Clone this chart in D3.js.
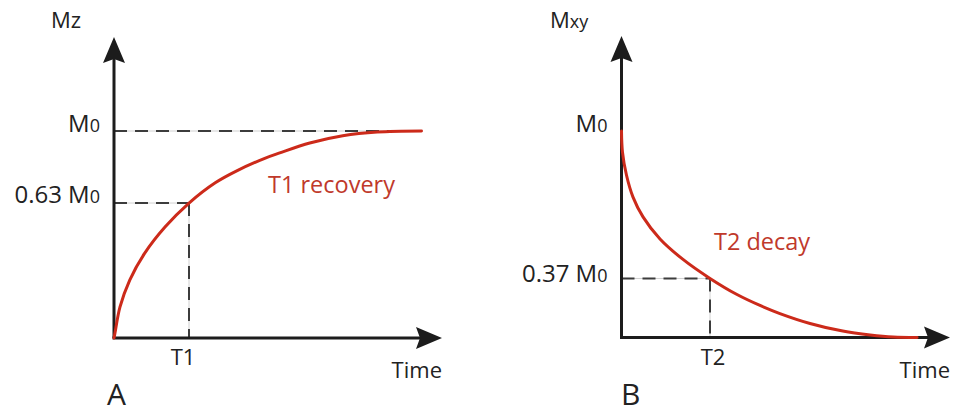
<!DOCTYPE html>
<html>
<head>
<meta charset="utf-8">
<script src="https://cdn.jsdelivr.net/npm/d3@7"></script>
<style>
  body { margin: 0; background: #fff; }
  svg text { font-family: "Open Sans", sans-serif; fill: #222; }
</style>
</head>
<body>
<div id="graph"></div>
<script>
// T1 recovery (time in T1 units, signal in M0 units)
const t1Time = [0, 0.013, 0.08, 0.21, 0.41, 0.68, 1.0, 1.35, 1.65, 2.01, 2.21, 2.61, 3.05, 3.51, 4.1];
const t1Signal = [0, 0.024, 0.15, 0.28, 0.41, 0.536, 0.652, 0.75, 0.81, 0.868, 0.894, 0.942, 0.977, 0.995, 1.0];

// T2 decay (time in T2 units)
const t2Time = [0, 0.011, 0.056, 0.13, 0.243, 0.435, 0.695, 1.0, 1.305, 1.565, 1.79, 2.13, 2.5, 2.81, 3.07, 3.34];
const t2Signal = [1, 0.898, 0.787, 0.68, 0.584, 0.477, 0.378, 0.286, 0.208, 0.155, 0.116, 0.068, 0.031, 0.012, 0.002, 0];

// tick labels: [main, subscript]
const t1YTicks = [1, 0.652];
const t1YLabels = [["M", "0"], ["0.63 M", "0"]];
const t1XTicks = [1];
const t1XLabels = ["T1"];

const t2YTicks = [1, 0.286];
const t2YLabels = [["M", "0"], ["0.37 M", "0"]];
const t2XTicks = [1];
const t2XLabels = ["T2"];

const width = 953, height = 415;
const axisColor = "#1c1c1c", curveColor = "#cc2a1a";

const svg = d3.select("#graph").append("svg")
    .attr("width", width)
    .attr("height", height);

const arrowPath = (x, y, dir) => {
    // dir: "up" or "right"; length 26, half-width 11, notch 4
    const L = 26, W = 11, N = 4;
    if (dir === "up") {
        return `M${x},${y} L${x + W},${y + L} L${x},${y + L - N} L${x - W},${y + L} Z`;
    }
    return `M${x},${y} L${x - L},${y - W} L${x - L + N},${y} L${x - L},${y + W} Z`;
};

const dashed = (g, x1, y1, x2, y2) => {
    g.append("line")
        .attr("x1", x1).attr("y1", y1).attr("x2", x2).attr("y2", y2)
        .style("stroke", "#d0d0d0").style("stroke-width", 1);
    g.append("line")
        .attr("x1", x1).attr("y1", y1).attr("x2", x2).attr("y2", y2)
        .style("stroke", "#3c3c3c").style("stroke-width", 2)
        .style("stroke-dasharray", "13,8");
};

const subLabel = (g, x, y, parts, size, subSize, anchor) => {
    const t = g.append("text")
        .attr("x", x).attr("y", y)
        .attr("text-anchor", anchor)
        .attr("font-size", size);
    t.append("tspan").text(parts[0]);
    t.append("tspan").attr("font-size", subSize).text(parts[1]);
    return t;
};

const createPanel = (p) => {
    const g = svg.append("g");
    const xScale = d3.scaleLinear().domain([0, 1]).range([p.x0, p.x1]);
    const yScale = d3.scaleLinear().domain([0, 1]).range([p.y0, p.y1]);

    // guide lines
    p.yTicks.forEach((v, i) => {
        if (p.guideRight[i] != null) {
            dashed(g, p.x0, yScale(v), xScale(p.guideRight[i]), yScale(v));
        }
    });
    p.xTicks.forEach((v) => {
        dashed(g, xScale(v), yScale(p.guideTop), xScale(v), p.y0);
    });

    // axes
    g.append("line")
        .attr("x1", p.x0).attr("y1", p.y0)
        .attr("x2", p.x0).attr("y2", p.yTip + 20)
        .style("stroke", axisColor).style("stroke-width", 3);
    g.append("line")
        .attr("x1", p.x0 - 1.5).attr("y1", p.y0)
        .attr("x2", p.xTip - 20).attr("y2", p.y0)
        .style("stroke", axisColor).style("stroke-width", 3);
    g.append("path").attr("d", arrowPath(p.x0, p.yTip, "up")).style("fill", axisColor);
    g.append("path").attr("d", arrowPath(p.xTip, p.y0, "right")).style("fill", axisColor);

    // curve
    const pts = p.time.map((t, i) => ({ t: t, m: p.signal[i] }));
    g.append("path")
        .datum(pts)
        .attr("d", d3.line().x(d => xScale(d.t)).y(d => yScale(d.m)).curve(d3.curveCatmullRom.alpha(0.5)))
        .style("fill", "none")
        .style("stroke", curveColor)
        .style("stroke-width", 3)
        .style("stroke-linecap", "round");

    // tick labels
    p.yTicks.forEach((v, i) => {
        subLabel(g, p.x0 - 14, yScale(v) + p.yLabelDy[i], p.yLabels[i], 24, 18, "end");
    });
    p.xTicks.forEach((v, i) => {
        g.append("text")
            .attr("x", xScale(v) + p.xLabelDx).attr("y", p.y0 + 27)
            .attr("text-anchor", "middle")
            .attr("font-size", 22)
            .text(p.xLabels[i]);
    });

    // axis titles
    subLabel(g, p.titleX, 28, p.title, 22, p.title[1].length > 1 ? 18 : 22, "start");
    g.append("text")
        .attr("x", p.xTip).attr("y", p.y0 + 40)
        .attr("text-anchor", "end")
        .attr("font-size", 22)
        .text("Time");
    g.append("text")
        .attr("x", p.letterX).attr("y", 405)
        .attr("font-size", 30)
        .text(p.letter);

    // curve name
    g.append("text")
        .attr("x", p.nameX).attr("y", p.nameY)
        .attr("font-size", 23.5)
        .style("fill", "#c0392b")
        .text(p.name);
};

createPanel({
    x0: 114, x1: 189, y0: 338, y1: 131, xTip: 442, yTip: 37,
    time: t1Time, signal: t1Signal,
    yTicks: t1YTicks, yLabels: t1YLabels, yLabelDy: [1, 0],
    guideRight: [4.1, 1],
    xTicks: t1XTicks, xLabels: t1XLabels, xLabelDx: -6,
    guideTop: 0.652,
    title: ["M", "z"], titleX: 51,
    letter: "A", letterX: 107,
    name: "T1 recovery", nameX: 268, nameY: 193
});

createPanel({
    x0: 621.5, x1: 710, y0: 337.5, y1: 131, xTip: 950, yTip: 36,
    time: t2Time, signal: t2Signal,
    yTicks: t2YTicks, yLabels: t2YLabels, yLabelDy: [1, 4],
    guideRight: [null, 1],
    xTicks: t2XTicks, xLabels: t2XLabels, xLabelDx: 3,
    guideTop: 0.286,
    title: ["M", "xy"], titleX: 550,
    letter: "B", letterX: 621,
    name: "T2 decay", nameX: 714, nameY: 250
});
</script>
</body>
</html>
